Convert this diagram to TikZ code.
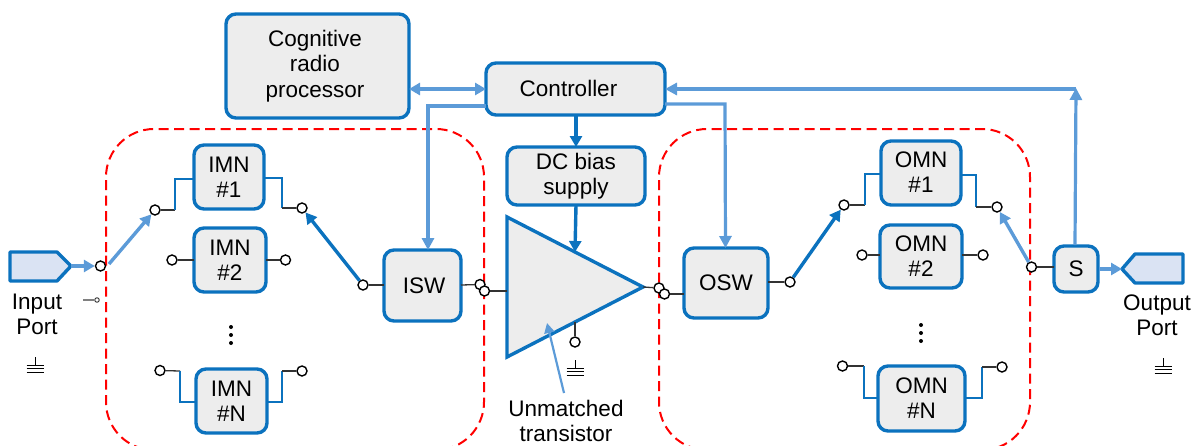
\documentclass[tikz,border=0pt]{standalone}
\usepackage{fontspec}
\setmainfont{Liberation Sans}
\usetikzlibrary{arrows.meta}
\definecolor{dkblue}{HTML}{0B72BE}
\definecolor{ltblue}{HTML}{5C9BD8}
\definecolor{boxfill}{HTML}{EDEDED}
\definecolor{portfill}{HTML}{DAE3F3}
\definecolor{wire}{HTML}{333333}
\tikzset{
  x=1pt,y=-1pt,
  blk/.style={draw=dkblue,line width=3.4pt,fill=boxfill,rounded corners=10pt,inner sep=0pt,align=center,font=\fontsize{22.5}{25}\selectfont},
  lbl/.style={font=\fontsize{22.5}{25}\selectfont,align=center,inner sep=0pt},
  term/.style={circle,draw=black,fill=white,line width=1.4pt,minimum size=10pt,inner sep=0pt},
  blw/.style={draw=dkblue,line width=2pt},
  wr/.style={draw=wire,line width=1.3pt},
  darrow/.style={draw=dkblue,line width=3.4pt,-{Triangle[length=11pt,width=12pt]}},
  larrow/.style={draw=ltblue,line width=3.4pt,-{Triangle[length=11pt,width=12pt]}},
  thinl/.style={draw=ltblue,line width=3.2pt,-{Triangle[length=12pt,width=12pt]}},
  region/.style={draw=red,line width=2pt,dash pattern=on 10pt off 5.5pt,rounded corners=48pt},
  gnd/.style={draw=black,line width=1pt},
  dotm/.style={circle,fill=black,minimum size=4pt,inner sep=0pt},
}
\newcommand{\blockat}[6]{\node[blk,minimum width=#4pt-#2pt,minimum height=#5pt-#3pt] (#1) at ({(#2+#4)/2},{(#3+#5)/2}) {#6};}
\newcommand{\gndat}[3]{\draw[gnd] (#1,#2) -- (#1,#2+8) (#1-8.5,#2+8) -- (#1+8.5,#2+8) (#1-8.5,#2+11.5) -- (#1+8.5,#2+11.5) (#1-8.5,#2+15) -- (#1+8.5,#2+15);}
\begin{document}
\begin{tikzpicture}
\useasboundingbox (0,0) rectangle (1192,445);
\begin{scope}
\clip (0,0) rectangle (1192,445);
\draw[region] (106,300) -- (106,129) -- (484,129) -- (484,450) -- (106,450) -- cycle;
\draw[region] (659,300) -- (659,129) -- (1030,129) -- (1030,450) -- (659,450) -- cycle;
\end{scope}
% blocks
\blockat{crp}{226}{14}{409}{118}{\hspace*{-5pt}\raisebox{4pt}{Cognitive}\\\hspace*{-5pt}\raisebox{4pt}{radio}\\\hspace*{-5pt}\raisebox{3.5pt}{processor}}
\blockat{ctl}{486}{63}{665}{115}{\hspace*{-14pt}\raisebox{1.5pt}{Controller}}
\blockat{dcb}{507}{147}{645}{205}{DC bias\\supply}
\blockat{isw}{384}{250}{461}{321}{\hspace*{3pt}ISW}
\blockat{osw}{684}{248}{768}{318}{OSW}
\blockat{imna}{194}{145}{264}{209}{IMN\\\#1}
\blockat{imnb}{194}{228}{266}{292}{IMN\\\#2}
\blockat{imnn}{196}{369}{267}{433}{IMN\\\#N}
\blockat{omna}{881}{141}{961}{205}{\raisebox{2pt}{OMN}\\\raisebox{2pt}{\#1}}
\blockat{omnb}{880}{225}{962}{288}{OMN\\\#2}
\blockat{omnn}{878}{366}{965}{431}{OMN\\\#N}
\blockat{sw}{1054}{246}{1098}{292}{S}
% transistor
\coordinate (tra) at (507,217);
\coordinate (trb) at (507,357);
\coordinate (trc) at (643,287);
\draw[draw=dkblue,fill=boxfill,line width=3.4pt,line join=miter] (tra) -- (trb) -- (trc) -- cycle;
% ports
\coordinate (ipt) at (71,266);
\coordinate (opt) at (1122,269);
\draw[draw=dkblue,fill=portfill,line width=3.4pt,line join=round] (10,252) -- (57,252) -- (ipt) -- (57,281) -- (10,281) -- cycle;
\draw[draw=dkblue,fill=portfill,line width=3.4pt,line join=round] (1183,254) -- (1135,254) -- (opt) -- (1135,283) -- (1183,283) -- cycle;
% terminals
\node[term] (ti) at (100.5,266) {};
\node[term] (a1l) at (155,210) {};
\node[term] (a1r) at (302,208) {};
\node[term] (a2l) at (172,260) {};
\node[term] (a2r) at (285.5,260) {};
\node[term] (anl) at (160,370.5) {};
\node[term] (anr) at (302,371) {};
\node[term] (isi) at (363,285) {};
\node[term] (iso1) at (480,284.5) {};
\node[term] (iso2) at (484.5,291) {};
\node[term] (tro1) at (659,288) {};
\node[term] (tro2) at (664.5,294) {};
\node[term] (oso) at (790,282) {};
\node[term] (b1l) at (844,205) {};
\node[term] (b1r) at (997,207) {};
\node[term] (b2l) at (862,255) {};
\node[term] (b2r) at (983,255) {};
\node[term] (bnl) at (842.5,366) {};
\node[term] (bnr) at (1002,367) {};
\node[term] (soi) at (1031.5,267) {};
\node[term] (trg) at (575,342) {};
\node[circle,draw=wire,fill=white,line width=0.9pt,minimum size=4.5pt,inner sep=0pt] (stray) at (97,300) {};
\coordinate (strayl) at (83,300);
\draw[wr,draw=gray] (strayl) -- (stray);
% IMN wiring
\coordinate (c1) at (175,210); \coordinate (c2) at (282,208);
\coordinate (c3) at (180,371); \coordinate (c4) at (282,371);
\draw[wr] (a1l) -- (c1);
\draw[blw] (c1) -- (175,179) -- (194,179);
\draw[blw] (264,178) -- (282,178) -- (c2);
\draw[wr] (c2) -- (a1r);
\draw[wr] (a2l) -- (194,260) (266,260) -- (a2r);
\draw[wr] (anl) -- (c3);
\draw[blw] (c3) -- (180,402) -- (196,402);
\draw[blw] (267,402) -- (282,402) -- (c4);
\draw[wr] (c4) -- (anr);
% OMN wiring
\coordinate (d1) at (865,205); \coordinate (d2) at (976,207);
\coordinate (d3) at (864,366); \coordinate (d4) at (982,367);
\draw[wr] (b1l) -- (d1);
\draw[blw] (d1) -- (865,174) -- (881,174);
\draw[blw] (961,175) -- (976,175) -- (d2);
\draw[wr] (d2) -- (b1r);
\draw[wr] (b2l) -- (880,255) (962,255) -- (b2r);
\draw[wr] (bnl) -- (d3);
\draw[blw] (d3) -- (864,398) -- (878,398);
\draw[blw] (965,398) -- (982,398) -- (d4);
\draw[wr] (d4) -- (bnr);
% RF wires
\draw[wr] (isi) -- (384,285);
\draw[wr] (461,285) -- (iso1);
\draw[wr] (iso2) -- (507,291);
\draw[wr] (trc) -- (tro1);
\draw[wr] (tro2) -- (684,294);
\draw[wr] (768,282) -- (oso);
\draw[wr] (soi) -- (1054,267);
\draw[wr] (575,322) -- (trg);
% arrows
\draw[larrow] (ipt) -- (ti);
\coordinate (swi) at (109,264);
\draw[larrow] (swi) -- (a1l);
\draw[darrow] (isi) -- (a1r);
\draw[darrow] (oso) -- (b1l);
\draw[larrow] (soi) -- (b1r);
\draw[larrow] (1099,269) -- (opt);
\draw[draw=ltblue,line width=3.2pt,{Triangle[length=11pt,width=12pt]}-{Triangle[length=11pt,width=12pt]}] (409,89) -- (486,89);
\draw[thinl] (486,106) -- (428,106) -- (428,250);
\draw[thinl] (665,104) -- (725,104) -- (725.5,248);
\draw[thinl] (1076,89) -- (665,89);
\draw[thinl] (1075,245) -- (1076,88);
\draw[darrow] (576,115) -- (576,147);
\draw[darrow] (576,205) -- (575,252);
\coordinate (ldr) at (564,393);
\draw[draw=ltblue,line width=2.2pt,-{Triangle[length=10pt,width=10pt]}] (ldr) -- (547,323);
% labels
\node[lbl] (inl) at (37,314.5) {Input\\Port};
\node[lbl] (outl) at (1157,315) {Output\\Port};
\node[lbl] (utl) at (566,421) {Unmatched\\transistor};
% grounds
\gndat{35}{357}{}
\gndat{575}{360}{}
\gndat{1163}{358}{}
% ellipsis dots
\foreach \n/\xx/\yy in {l1/231/327,l2/231/335,l3/231/343,r1/921/325,r2/921/333,r3/921/341}
  \node[dotm] (dot\n) at (\xx,\yy) {};
\end{tikzpicture}
\end{document}
